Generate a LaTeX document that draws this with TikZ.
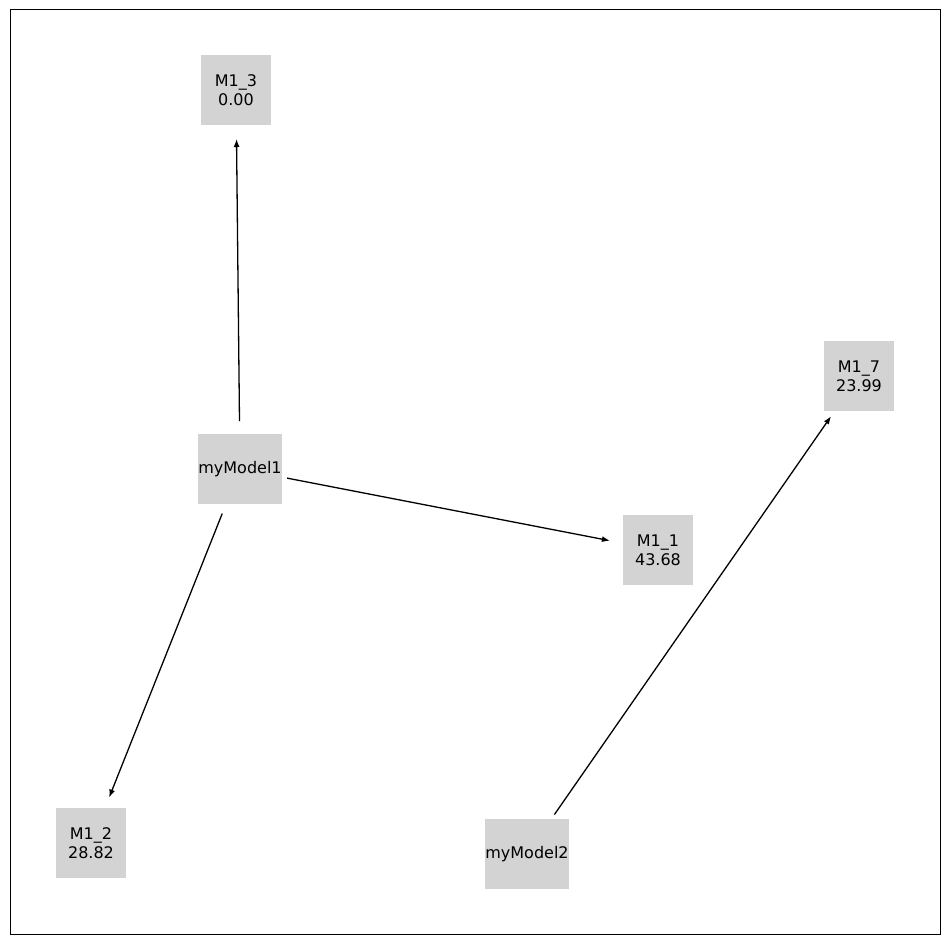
\documentclass[tikz,border=0pt]{standalone}
\usepackage{fontspec}
\setmainfont{DejaVu Sans}
\usetikzlibrary{arrows.meta}
\definecolor{nodegray}{HTML}{D3D3D3}
\begin{document}
\begin{tikzpicture}[x=1pt,y=-1pt,
  box/.style={fill=nodegray,minimum width=70pt,minimum height=70pt,inner sep=0pt,align=center,font=\fontsize{16pt}{19pt}\selectfont},
  edge/.style={line width=1.3pt,-{Latex[length=8pt,width=6pt]},shorten <=48pt,shorten >=49pt}]
\useasboundingbox (0,0) rectangle (950,944);
\draw[line width=1pt] (10,10) rectangle (940,934);
\node[box] (m3) at (236,90) {M1\_3\\0.00};
\node[box] (mm1) at (240,469) {myModel1};
\node[box] (m1) at (658,550) {M1\_1\\43.68};
\node[box] (m7) at (859,376) {M1\_7\\23.99};
\node[box] (m2) at (91,843) {M1\_2\\28.82};
\node[box] (mm2) at (527,854) {myModel2};
\draw[edge] (mm1.center) -- (m3.center);
\draw[edge] (mm1.center) -- (m1.center);
\draw[edge] (mm1.center) -- (m2.center);
\draw[edge] (mm2.center) -- (m7.center);
\end{tikzpicture}
\end{document}
